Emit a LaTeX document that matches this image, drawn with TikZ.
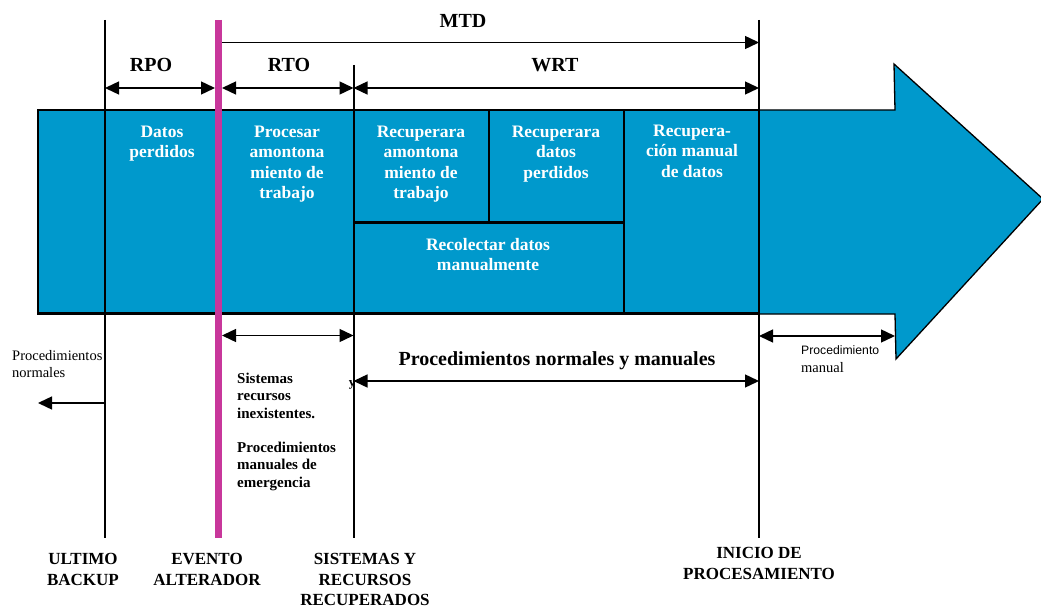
\documentclass[tikz,border=0pt]{standalone}
\usepackage{fontspec}
\setmainfont{Liberation Serif}
\newfontfamily\arialf{Liberation Sans}
\usetikzlibrary{arrows.meta}
\definecolor{shaftblue}{HTML}{0099CC}
\definecolor{evmag}{HTML}{C8379B}
\begin{document}
\begin{tikzpicture}[x=1pt,y=-1pt,
  onetip/.style={-{Triangle[length=14pt,width=13pt]}, line width=1.4pt},
  twotip/.style={{Triangle[length=14pt,width=13pt]}-{Triangle[length=14pt,width=13pt]}, line width=1.4pt},
  vline/.style={line width=2pt},
  boxtxt/.style={anchor=north, align=center, text=white, inner sep=0pt, font=\fontsize{17.5}{20.5}\selectfont\bfseries},
  toplbl/.style={anchor=base, inner sep=0pt, font=\fontsize{20}{22}\selectfont\bfseries},
  botlbl/.style={anchor=north, align=center, inner sep=0pt, font=\fontsize{17}{20.5}\selectfont\bfseries},
  smallbold/.style={anchor=north west, align=left, inner sep=0pt, font=\fontsize{15}{17.3}\selectfont\bfseries},
]
\useasboundingbox (0,0) rectangle (1041,607);
% big arrow
\draw[fill=shaftblue, line width=1.3pt, line join=miter]
  (38,110) -- (895,110) -- (894,64) -- (1043,199) -- (896,359) -- (895,314) -- (38,314) -- cycle;
% boxes in the shaft
\draw[line width=2.5pt] (38,110) rectangle (759,313.5);
\draw[line width=2.2pt] (353.5,222.5) -- (624,222.5);
\draw[line width=2.2pt] (489,110) -- (489,222.5);
\draw[line width=2.2pt] (624,110) -- (624,313.5);
% coordinates
\coordinate (ubT) at (105,20);   \coordinate (ubB) at (105,538);
\coordinate (evT) at (218.5,20); \coordinate (evB) at (218.5,538);
\coordinate (srT) at (353.5,65); \coordinate (srB) at (353.5,538);
\coordinate (ipT) at (759,20);   \coordinate (ipB) at (759,538);
\coordinate (notch) at (895,336);
\coordinate (leftEnd) at (38,403);
% vertical lines
\draw[vline] (ubT) -- (ubB);
\draw[vline] (srT) -- (srB);
\draw[vline] (ipT) -- (ipB);
% texts in boxes
\node[boxtxt] (dp) at (162,125.6) {Datos\\perdidos};
\node[boxtxt] (pa) at (287,125.6) {Procesar\\amontona\\miento de\\trabajo};
\node[boxtxt] (ra) at (421,125.6) {Recuperara\\amontona\\miento de\\trabajo};
\node[boxtxt] (rd) at (556,125.6) {Recuperara\\datos\\perdidos};
\node[boxtxt] (rm) at (692,124.6) {Recupera-\\ción manual\\de datos};
\node[boxtxt] (rc) at (488,238) {Recolectar datos\\manualmente};
% top labels
\node[toplbl] (mtd) at (463,27.5) {MTD};
\node[toplbl] (rpo) at (151,72) {RPO};
\node[toplbl] (rto) at (289,72) {RTO};
\node[toplbl] (wrt) at (555,72) {WRT};
% top arrows
\draw[onetip] (222,42.5) -- (ipT |- 0,42.5);
\draw[twotip] (ubT |- 0,88) -- (215,88);
\draw[twotip] (222,88) -- (srT |- 0,88);
\draw[twotip] (srT |- 0,88) -- (ipT |- 0,88);
% lower texts
\node[anchor=north west, align=left, inner sep=0pt, font=\fontsize{14.5}{17.7}\selectfont] (pn) at (12,350) {Procedimientos\\normales};
\node[anchor=base, inner sep=0pt, font=\fontsize{20}{22}\selectfont\bfseries] (pnm) at (557,365.5) {Procedimientos normales y manuales};
\node[anchor=north west, align=left, inner sep=0pt, font=\fontsize{14.5}{18}\selectfont] (pm) at (801,345.5) {{\arialf\fontsize{12.2}{18}\selectfont Procedimiento}\\manual};
\node[anchor=base, inner sep=0pt, font=\fontsize{13}{13}\selectfont\bfseries] (ystray) at (352,386) {y};
\node[smallbold] (sri) at (237,372.8) {Sistemas\\recursos\\inexistentes.};
\node[smallbold] (pme) at (237,441.8) {Procedimientos\\manuales de\\emergencia};
% lower arrows
\draw[twotip] (222,335.5) -- (srT |- 0,335.5);
\draw[twotip] (ipT |- notch) -- (notch);
\draw[twotip] (srT |- 0,381) -- (ipT |- 0,381);
\draw[onetip] (ubT |- leftEnd) -- (leftEnd);
% bottom labels
\node[botlbl] (ub) at (83,553.3) {ULTIMO\\BACKUP};
\node[botlbl] (ev) at (207,553.3) {EVENTO\\ALTERADOR};
\node[botlbl] (sr) at (365,553.3) {SISTEMAS Y\\RECURSOS\\RECUPERADOS};
\node[botlbl] (ip) at (759,547.3) {INICIO DE\\PROCESAMIENTO};
% event line
\draw[evmag, line width=7pt] (evT) -- (evB);
\end{tikzpicture}
\end{document}
